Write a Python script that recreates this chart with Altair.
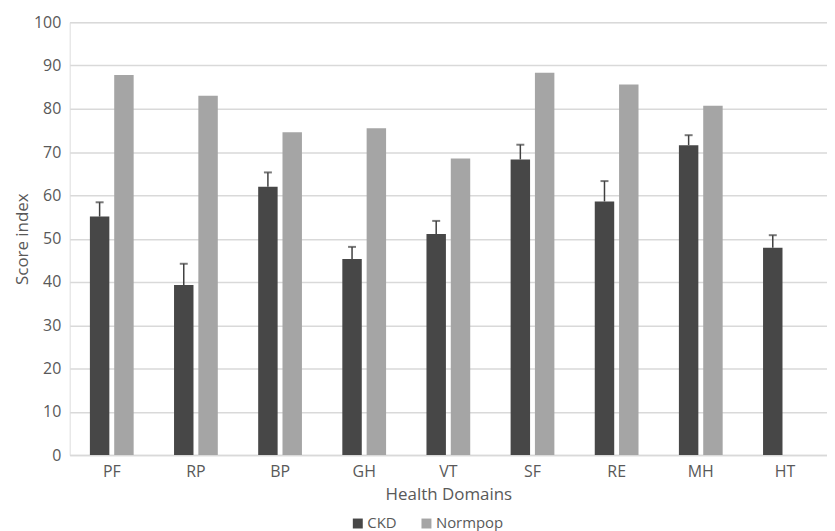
import altair as alt
import pandas as pd

domains = ["PF", "RP", "BP", "GH", "VT", "SF", "RE", "MH", "HT"]
ckd = [55.1, 39.3, 62.0, 45.3, 51.1, 68.3, 58.6, 71.6, 47.9]
ckd_err_top = [58.4, 44.2, 65.3, 48.1, 54.1, 71.7, 63.3, 73.9, 50.8]
normpop = [87.8, 83.0, 74.6, 75.5, 68.5, 88.3, 85.6, 80.7, None]
groups = ["CKD", "Normpop"]
colors = ["#474747", "#a5a5a5"]
y_ticks = [0, 10, 20, 30, 40, 50, 60, 70, 80, 90, 100]

rows = []
for d, c, n in zip(domains, ckd, normpop):
    rows.append({"Domain": d, "Group": "CKD", "Score": c})
    if n is not None:
        rows.append({"Domain": d, "Group": "Normpop", "Score": n})
bars_df = pd.DataFrame(rows)
err_df = pd.DataFrame({"Domain": domains, "Group": "CKD", "Score": ckd, "Top": ckd_err_top})

txt = "#595959"
font = "Open Sans"

x_enc = alt.X("Domain:N", sort=domains,
              scale=alt.Scale(paddingInner=0.48, paddingOuter=0.24),
              axis=alt.Axis(title="Health Domains", labelAngle=0, tickSize=0,
                            labelPadding=9, domainColor="#d9d9d9", domainWidth=1.5,
                            labelFontSize=16, titleFontSize=17, titlePadding=7,
                            labelColor=txt, titleColor=txt, labelFont=font,
                            titleFont=font, titleFontWeight="normal", grid=False))
xoff = alt.XOffset("Group:N", sort=groups, scale=alt.Scale(paddingInner=0.2, paddingOuter=0))

bars = alt.Chart(bars_df).mark_bar().encode(
    x=x_enc,
    xOffset=xoff,
    y=alt.Y("Score:Q", scale=alt.Scale(domain=[0, 100]),
            axis=alt.Axis(title="Score index", values=y_ticks, tickSize=0, domain=False,
                          labelPadding=9, gridColor="#d9d9d9", gridWidth=1.5,
                          labelFontSize=16, titleFontSize=17, titlePadding=2,
                          labelColor=txt, titleColor=txt, labelFont=font,
                          titleFont=font, titleFontWeight="normal")),
    color=alt.Color("Group:N", sort=groups,
                    scale=alt.Scale(domain=groups, range=colors),
                    legend=alt.Legend(title=None, orient="none", direction="horizontal",
                                      legendX=282, legendY=496, symbolType="square",
                                      symbolSize=100, symbolStrokeWidth=0,
                                      labelFontSize=15, labelColor=txt, labelFont=font,
                                      columnPadding=22, symbolOffset=0, labelOffset=2)),
)

rule = alt.Chart(err_df).mark_rule(color="#404040", strokeWidth=1.5).encode(
    x=alt.X("Domain:N", sort=domains),
    xOffset=xoff,
    y="Score:Q",
    y2="Top:Q",
)
cap = alt.Chart(err_df).mark_tick(color="#404040", thickness=2, size=8).encode(
    x=alt.X("Domain:N", sort=domains),
    xOffset=xoff,
    y="Top:Q",
)

chart = alt.layer(bars, rule, cap).properties(
    width=761, height=435,
    padding={"left": 5, "top": 5, "right": 0, "bottom": 0},
).configure_view(stroke=None).configure(font=font)

chart.save("out.html", embed_options={"renderer": "svg", "actions": False})
